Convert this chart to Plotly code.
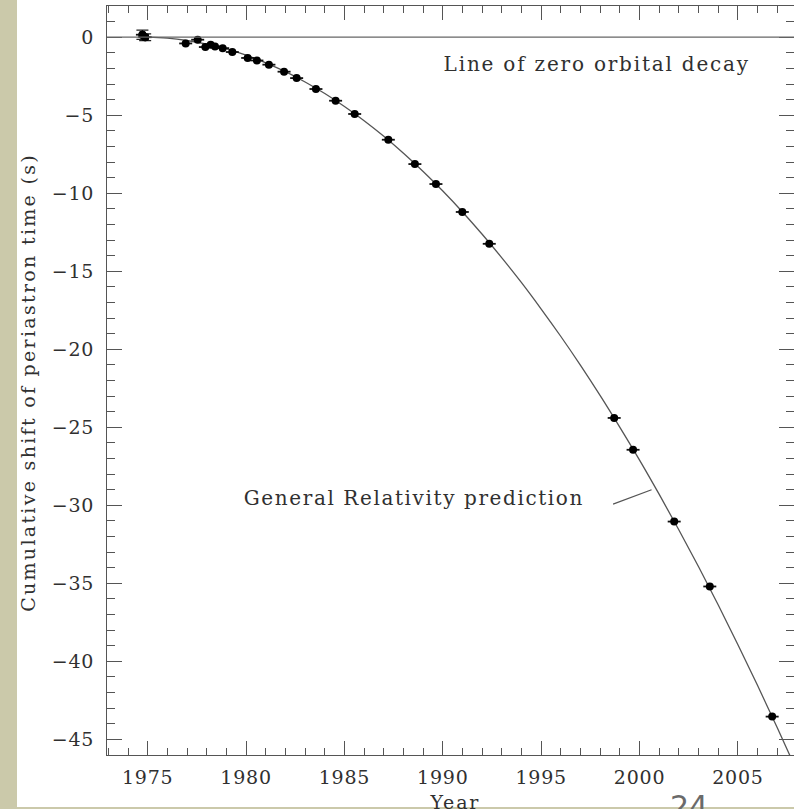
import plotly.graph_objects as go

# Measured data (year, cumulative shift of periastron time in s)
obs_year = [1974.73, 1974.87, 1976.93, 1977.54, 1977.93, 1978.20, 1978.42, 1978.81,
            1979.30, 1980.08, 1980.55, 1981.16, 1981.93, 1982.57, 1983.55, 1984.55,
            1985.52, 1987.23, 1988.58, 1989.65, 1990.99, 1992.36, 1998.71, 1999.67,
            2001.76, 2003.57, 2006.74]
obs_shift = [0.16, 0.00, -0.40, -0.16, -0.63, -0.48, -0.59, -0.70,
             -0.95, -1.33, -1.49, -1.76, -2.21, -2.62, -3.32, -4.07,
             -4.92, -6.57, -8.13, -9.41, -11.20, -13.24, -24.40, -26.44,
             -31.04, -35.20, -43.54]
obs_year_err = [0.33] * len(obs_year)
obs_shift_err = [0.30, 0.22] + [0.0] * (len(obs_year) - 2)

# General Relativity prediction curve
gr_year = [1974.5, 1975, 1976, 1977, 1978, 1979, 1980, 1981, 1982, 1983, 1984, 1985,
           1986, 1987, 1988, 1989, 1990, 1991, 1992, 1993, 1994, 1995, 1996, 1997,
           1998, 1999, 2000, 2001, 2002, 2003, 2004, 2005, 2006, 2007, 2008]
gr_shift = [0.0, 0.0, -0.06, -0.21, -0.44, -0.75, -1.15, -1.64, -2.21, -2.87, -3.61, -4.44,
            -5.35, -6.35, -7.44, -8.61, -9.86, -11.20, -12.63, -14.14, -15.73, -17.42, -19.18, -21.03,
            -22.97, -25.00, -27.10, -29.30, -31.58, -33.94, -36.39, -38.93, -41.55, -44.25, -47.04]

x_ticks = [1975, 1980, 1985, 1990, 1995, 2000, 2005]
y_ticks = [0, -5, -10, -15, -20, -25, -30, -35, -40, -45]
y_tick_text = ["0" if v == 0 else "\u2212" + str(-v) for v in y_ticks]

SERIF = "DejaVu Serif"
TXT = "#303030"
AX = "#555555"
BG = "#cbc9aa"

fig = go.Figure()

fig.add_trace(go.Scatter(
    x=gr_year, y=gr_shift, mode="lines", line=dict(color="#555555", width=1.3, shape="spline"),
    hoverinfo="skip", showlegend=False))

ey = [i for i, e in enumerate(obs_shift_err) if e > 0]
fig.add_trace(go.Scatter(
    x=[obs_year[i] for i in ey], y=[obs_shift[i] for i in ey], mode="markers",
    marker=dict(color="black", size=8),
    error_y=dict(type="data", array=[obs_shift_err[i] for i in ey], color="#222222", thickness=1.3, width=6),
    showlegend=False))

fig.add_trace(go.Scatter(
    x=obs_year, y=obs_shift, mode="markers",
    marker=dict(color="black", size=8),
    error_x=dict(type="data", array=obs_year_err, color="#111111", thickness=1.8, width=0),
    showlegend=False))

# White slide panel
fig.add_shape(type="rect", xref="paper", yref="paper", x0=-0.131, x1=1.01, y0=-0.0694, y1=1.01,
              fillcolor="white", line=dict(width=0), layer="below")
# Line of zero orbital decay
fig.add_shape(type="line", xref="paper", yref="y", x0=0, x1=1, y0=0, y1=0,
              line=dict(color="#666666", width=1.2))

fig.add_annotation(x=1997.86, y=-1.7, text="Line of zero orbital decay", showarrow=False,
                   font=dict(family=SERIF, size=20, color=TXT), xanchor="center", yanchor="middle")
fig.add_annotation(x=1988.51, y=-29.5, text="General Relativity prediction", showarrow=False,
                   font=dict(family=SERIF, size=20, color=TXT), xanchor="center", yanchor="middle")
fig.add_annotation(x=2000.61, y=-29.0, text="", showarrow=True, arrowhead=0, arrowwidth=1.2,
                   arrowcolor="#555555", ax=-40, ay=15, standoff=0)

fig.add_annotation(xref="paper", yref="paper", x=0.5066, y=-0.0454, text="Year", showarrow=False,
                   font=dict(family=SERIF, size=19, color=TXT), xanchor="center", yanchor="top")
fig.add_annotation(xref="paper", yref="paper", x=-0.115, y=0.498,
                   text="Cumulative shift of periastron time (s)", showarrow=False, textangle=-90,
                   font=dict(family=SERIF, size=19, color=TXT), xanchor="center", yanchor="middle")
fig.add_annotation(xref="paper", yref="paper", x=0.847, y=-0.043, text="24", showarrow=False,
                   font=dict(family="DejaVu Sans", size=30, color="#6a6a6a"), xanchor="center", yanchor="top")

fig.update_xaxes(range=[1972.93, 2007.85], tickvals=x_ticks, ticks="inside", ticklen=14, tickwidth=1,
                 tickcolor=AX, showline=True, linecolor=AX, linewidth=1, mirror="allticks",
                 showgrid=False, zeroline=False, ticklabelstandoff=5,
                 tickfont=dict(family=SERIF, size=19, color=TXT),
                 minor=dict(dtick=1, ticks="inside", ticklen=7, tickcolor=AX, showgrid=False))
fig.update_yaxes(range=[-46, 2], tickvals=y_ticks, ticktext=y_tick_text, ticks="inside", ticklen=15,
                 tickwidth=1, tickcolor=AX, showline=True, linecolor=AX, linewidth=1, mirror="allticks",
                 showgrid=False, zeroline=False, ticklabelstandoff=8,
                 tickfont=dict(family=SERIF, size=19, color=TXT),
                 minor=dict(dtick=1, ticks="inside", ticklen=8, tickcolor=AX, showgrid=False))

fig.update_layout(width=794, height=809, margin=dict(l=107, r=0, t=6, b=54),
                  paper_bgcolor=BG, plot_bgcolor="white", showlegend=False)

# Wider letter spacing, as in the original plotting font
css = (".xtick text, .ytick text{letter-spacing:0.8px}"
       " g.annotation text{letter-spacing:1.8px}"
       " g.annotation[data-index='1'] text{letter-spacing:1.6px}"
       " g.annotation[data-index='4'] text{letter-spacing:2.3px}"
       " g.annotation[data-index='5'] text{letter-spacing:0px}")
post = ("var s=document.createElement('style');s.textContent=\"" + css + "\";"
        "document.head.appendChild(s);")

fig.write_html("out.html", post_script=post)
